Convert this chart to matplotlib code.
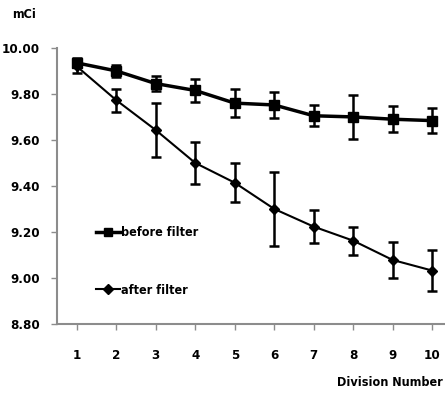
import matplotlib
matplotlib.use("Agg")
import matplotlib.pyplot as plt
from matplotlib.lines import Line2D

plt.rcParams['font.family'] = ['DejaVu Sans']
plt.rcParams['font.stretch'] = 'condensed'
plt.rcParams['font.weight'] = 'bold'

divisions = [1, 2, 3, 4, 5, 6, 7, 8, 9, 10]
before = [9.935, 9.90, 9.845, 9.815, 9.76, 9.752, 9.705, 9.70, 9.69, 9.684]
before_err = [0.02, 0.025, 0.032, 0.048, 0.06, 0.057, 0.046, 0.096, 0.056, 0.054]
after = [9.92, 9.773, 9.643, 9.50, 9.414, 9.30, 9.223, 9.162, 9.078, 9.032]
after_err = [0.03, 0.05, 0.117, 0.09, 0.084, 0.162, 0.072, 0.061, 0.078, 0.088]
yticks = [8.80, 9.00, 9.20, 9.40, 9.60, 9.80, 10.00]

fig = plt.figure(figsize=(4.45, 3.96), dpi=100)
ax = fig.add_axes([0.128, 0.182, 0.8876, 0.697])

ax.errorbar(divisions, before, yerr=before_err, color='black', lw=2.5,
            marker='s', ms=7, elinewidth=1.8, capsize=3.5, capthick=1.8,
            label='before filter')
ax.errorbar(divisions, after, yerr=after_err, color='black', lw=1.5,
            marker='D', ms=5.5, elinewidth=1.8, capsize=3.5, capthick=1.8,
            label='after filter')

ax.set_xlim(0.5, 10.5)
ax.set_ylim(8.8, 10.0)
ax.set_yticks(yticks)
ax.set_yticklabels([f"{v:.2f}" for v in yticks])
ax.set_xticks(divisions)
ax.set_xticklabels([str(d) for d in divisions])

for s in ['top', 'right']:
    ax.spines[s].set_visible(False)
for s in ['left', 'bottom']:
    ax.spines[s].set_color('#8c8c8c')
    ax.spines[s].set_linewidth(1.5)
ax.tick_params(axis='both', colors='#8c8c8c', labelcolor='black', labelsize=9.5,
               width=1, length=4)
ax.tick_params(axis='y', pad=8)
ax.tick_params(axis='x', pad=14)
for lbl in ax.get_xticklabels() + ax.get_yticklabels():
    lbl.set_fontweight('bold')

handles = [Line2D([], [], color='black', lw=2.5, marker='s', ms=6),
           Line2D([], [], color='black', lw=1.5, marker='D', ms=5)]
leg = ax.legend(handles, ['before filter', 'after filter'], loc='upper left',
                bbox_to_anchor=(0.07, 0.395), frameon=False, handlelength=1.9,
                handletextpad=0.15, labelspacing=3.55, prop={'size': 9, 'weight': 'bold'})

fig.text(12 / 445, 1 - 15 / 396, 'mCi', fontsize=9, fontweight='bold', va='center', ha='left')
fig.text(443 / 445, 1 - 383 / 396, 'Division Number', fontsize=9, fontweight='bold',
         va='center', ha='right')

fig.savefig('out.png', dpi=100)
